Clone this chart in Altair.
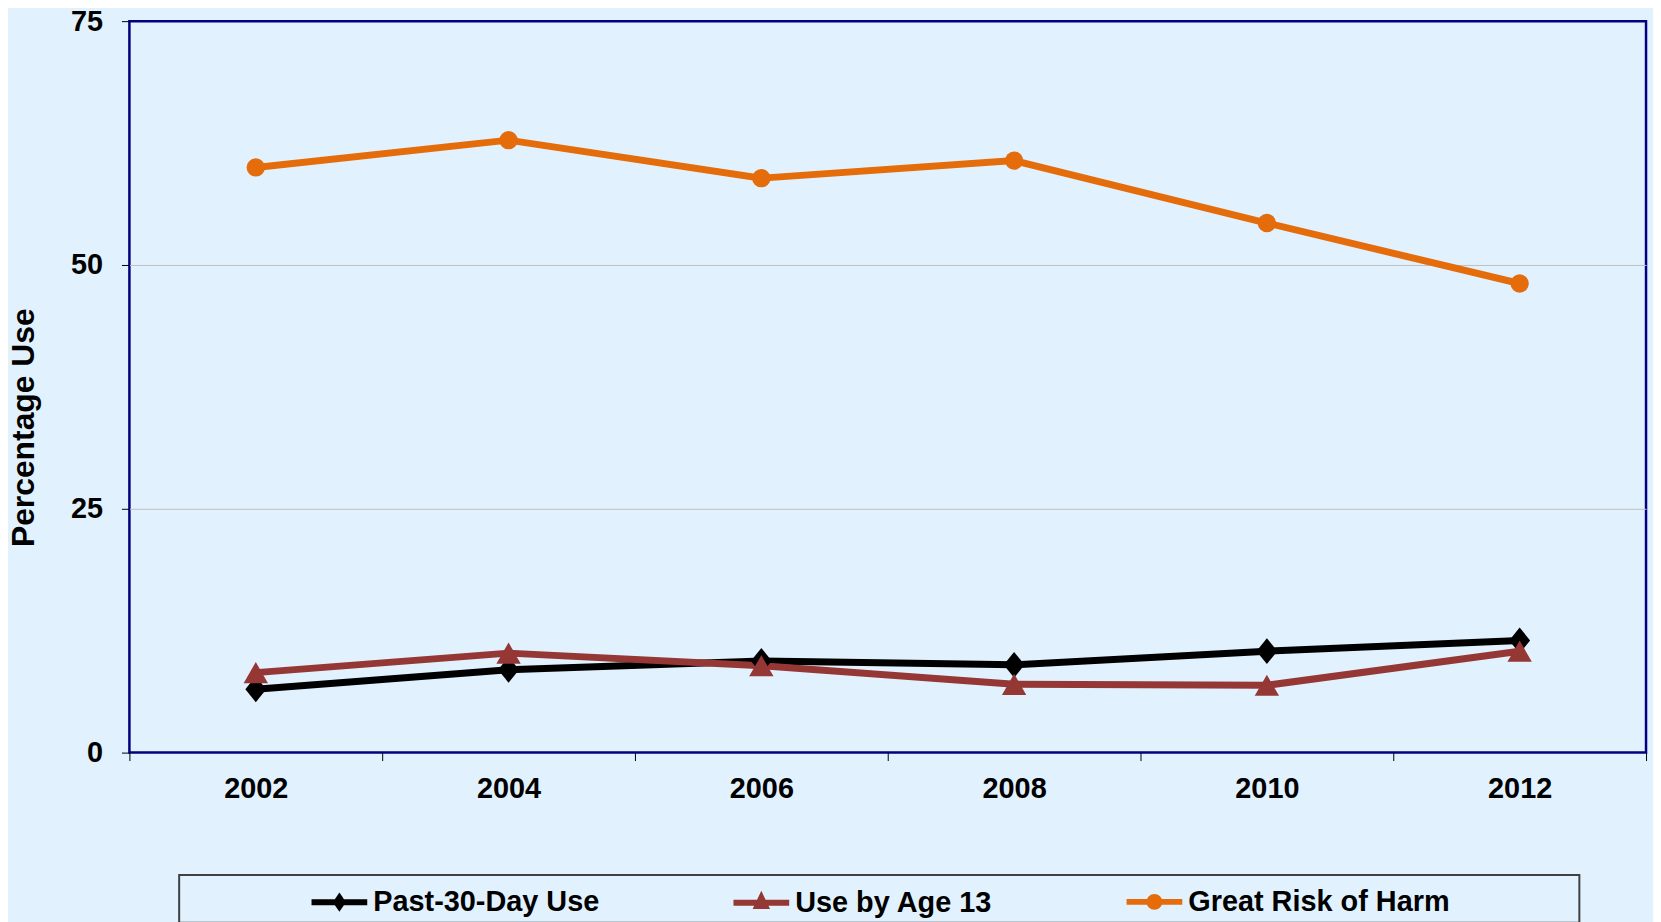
import altair as alt
import pandas as pd

years = ["2002", "2004", "2006", "2008", "2010", "2012"]
series_names = ["Past-30-Day Use", "Use by Age 13", "Great Risk of Harm"]
past30 = [6.5, 8.5, 9.4, 9.0, 10.4, 11.5]
age13 = [8.2, 10.2, 8.9, 7.0, 6.9, 10.4]
risk = [60.0, 62.8, 58.9, 60.7, 54.3, 48.1]
y_ticks = [0, 25, 50, 75]

colors = ["#000000", "#953735", "#E46C0A"]
point_shapes = ["M0,-1.3L1.05,0L0,1.3L-1.05,0Z", "triangle-up", "circle"]
point_sizes = [400, 600, 340]
# legend glyphs: a line segment with a marker drawn by a thick stroke
legend_paths = [
    "M-1.4,0L1.4,0M0,-0.22L0.15,0L0,0.22L-0.15,0Z",
    "M-1.4,0L1.4,0M0,-0.25L0.2,0.17L-0.2,0.17Z",
    "M-1.4,0L1.4,0M-0.25,0A0.25,0.25,0,1,0,0.25,0A0.25,0.25,0,1,0,-0.25,0ZM-0.05,0A0.05,0.05,0,1,0,0.05,0A0.05,0.05,0,1,0,-0.05,0Z",
]

BG = "#E1F2FE"
FONT = "Liberation Sans"

rows = []
for name, vals in zip(series_names, [past30, age13, risk]):
    for yr, v in zip(years, vals):
        rows.append({"Year": yr, "Series": name, "Value": v})
df = pd.DataFrame(rows)

x_enc = alt.X(
    "Year:N",
    sort=years,
    scale=alt.Scale(type="band", paddingInner=0, paddingOuter=0),
    axis=alt.Axis(
        title=None,
        labelAngle=0,
        tickBand="extent",
        domain=False,
        ticks=True,
        tickSize=8,
        tickColor="#000000",
        tickWidth=1,
        labelPadding=14,
        labelFont=FONT,
        labelFontSize=29,
        labelFontWeight="bold",
        labelColor="#000000",
        grid=False,
    ),
)
y_enc = alt.Y(
    "Value:Q",
    scale=alt.Scale(domain=[0, 75], nice=False, zero=True),
    axis=alt.Axis(
        values=y_ticks,
        title="Percentage Use",
        titleFont=FONT,
        titleFontSize=32,
        titleFontWeight="bold",
        titleColor="#000000",
        titleX=-106,
        titleY=408,
        titleBaseline="middle",
        titleAngle=270,
        domain=False,
        ticks=True,
        tickSize=8,
        tickColor="#000000",
        tickWidth=1,
        labelPadding=19,
        labelFont=FONT,
        labelFontSize=29,
        labelFontWeight="bold",
        labelColor="#000000",
        grid=True,
        gridColor="#BFBFBF",
        gridWidth=1,
        gridOpacity={"condition": {"test": "datum.value > 0 && datum.value < 75", "value": 1}, "value": 0},
    ),
)

color_scale = alt.Scale(domain=series_names, range=colors)

pad_last = "\u2800" * 6
leg = alt.Legend(
    title=".",
    titleOrient="left",
    titleOpacity=0,
    titleFontSize=10,
    titlePadding=131,
    orient="none",
    legendX=50,
    legendY=858,
    direction="horizontal",
    columns=3,
    columnPadding=122,
    symbolSize=1600,
    symbolStrokeWidth=6,
    labelFont=FONT,
    labelFontSize=29,
    labelFontWeight="bold",
    labelColor="#000000",
    labelOffset=11,
    labelLimit=0,
    labelExpr="datum.value == 'Great Risk of Harm' ? datum.label + '" + pad_last + "' : datum.label",
    padding=4,
    fillColor=BG,
    strokeColor="#404040",
)

legend_layer = alt.Chart(df).transform_filter("false").mark_point(filled=False, opacity=1, strokeWidth=6).encode(
    color=alt.Color("Series:N", scale=color_scale, legend=leg),
    shape=alt.Shape("Series:N", scale=alt.Scale(domain=series_names, range=legend_paths), legend=leg),
)

lines = alt.Chart(df).mark_line(strokeWidth=7).encode(
    x=x_enc,
    y=y_enc,
    color=alt.Color("Series:N", scale=color_scale, legend=None),
    detail="Series:N",
)

point_layers = []
for name, shp, sz in zip(series_names, point_shapes, point_sizes):
    point_layers.append(
        alt.Chart(df)
        .transform_filter(alt.datum.Series == name)
        .mark_point(filled=True, opacity=1, shape=shp, size=sz, strokeWidth=0)
        .encode(
            x=x_enc,
            y=y_enc,
            color=alt.Color("Series:N", scale=color_scale, legend=None),
        )
    )

chart = (
    alt.layer(legend_layer, lines, *point_layers)
    .properties(
        width=1524,
        height=735,
        autosize=alt.AutoSizeParams(type="none"),
        padding={"left": 122, "top": 11, "right": 7, "bottom": 168},
        background=BG,
    )
    .configure_view(stroke="#000080", strokeWidth=2.5, fill=BG)
    .configure_legend(strokeWidth=2)
)

chart.save("out.html", embed_options={"renderer": "svg", "actions": False})
